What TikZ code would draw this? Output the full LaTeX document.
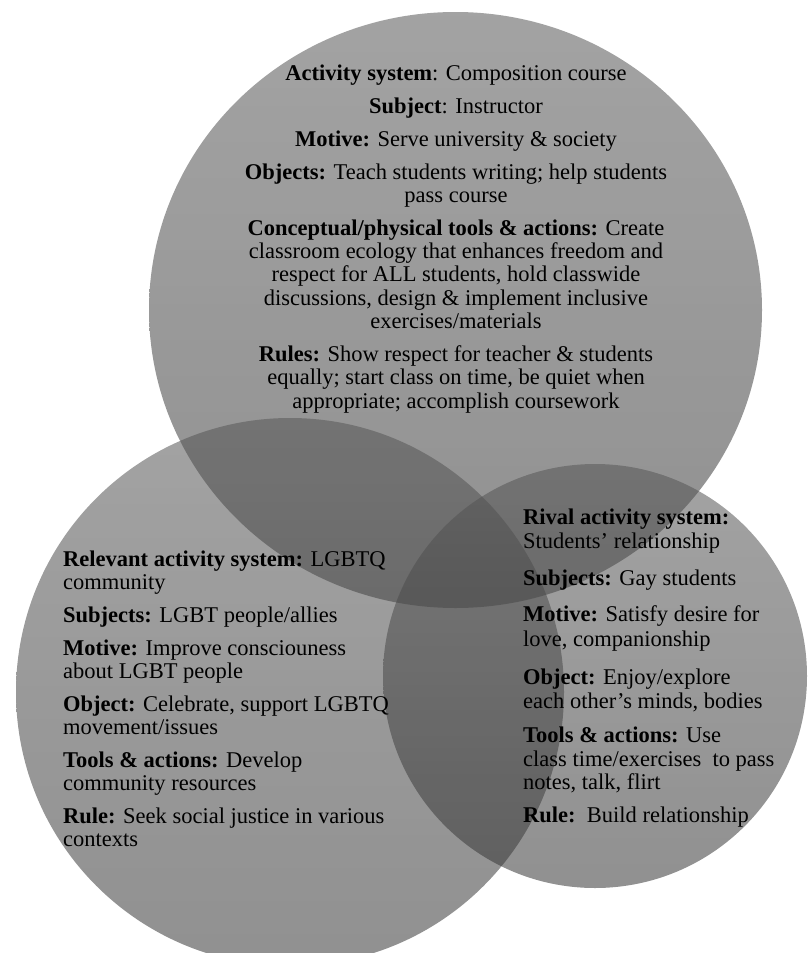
\documentclass[tikz,border=0pt]{standalone}
\usepackage{fontspec}
\setmainfont{Liberation Serif}
\definecolor{ctop}{gray}{0.34}
\definecolor{cbot}{gray}{0.21}
\begin{document}
\begin{tikzpicture}[x=1pt,y=-1pt,
  txt/.style={inner sep=0pt, font=\fontsize{22.5}{24}\selectfont, text=black},
  cline/.style={txt, anchor=base},
  lline/.style={txt, anchor=base west},
  disc/.style={top color=ctop, bottom color=cbot, fill opacity=0.55}]
\useasboundingbox (0,0) rectangle (809,953);
% circles
\shade[disc] (455.5,310) ellipse [x radius=306.5, y radius=298];
\shade[disc] (290,692) circle [radius=274];
\shade[disc] (595,676) circle [radius=212];
% top block
\node[cline] (t1) at (456,80) {\textbf{Activity system}: Composition course};
\node[cline] (t2) at (456,113) {\textbf{Subject}: Instructor};
\node[cline] (t3) at (456,146) {\textbf{Motive:} Serve university \& society};
\node[cline] (t4) at (456,179) {\textbf{Objects:} Teach students writing; help students};
\node[cline] (t5) at (456,202.3) {pass course};
\node[cline] (t6) at (456,235.3) {\textbf{Conceptual/physical tools \& actions:} Create};
\node[cline] (t7) at (456,258.6) {classroom ecology that enhances freedom and};
\node[cline] (t8) at (456,281.9) {respect for ALL students, hold classwide};
\node[cline] (t9) at (456,305.2) {discussions, design \& implement inclusive};
\node[cline] (t10) at (456,328.5) {exercises/materials};
\node[cline] (t11) at (456,361.5) {\textbf{Rules:} Show respect for teacher \& students};
\node[cline] (t12) at (456,384.8) {equally; start class on time, be quiet when};
\node[cline] (t13) at (456,408.1) {appropriate; accomplish coursework};
% left block
\node[lline] (l1) at (63,566) {\textbf{Relevant activity system:} LGBTQ};
\node[lline] (l2) at (63,589) {community};
\node[lline] (l3) at (63,622) {\textbf{Subjects:} LGBT people/allies};
\node[lline] (l4) at (63,655) {\textbf{Motive:} Improve consciouness};
\node[lline] (l5) at (63,678) {about LGBT people};
\node[lline] (l6) at (63,711) {\textbf{Object:} Celebrate, support LGBTQ};
\node[lline] (l7) at (63,734) {movement/issues};
\node[lline] (l8) at (63,767) {\textbf{Tools \& actions:} Develop};
\node[lline] (l9) at (63,790) {community resources};
\node[lline] (l10) at (63,823) {\textbf{Rule:} Seek social justice in various};
\node[lline] (l11) at (63,846) {contexts};
% right block
\node[lline] (r1) at (523,524) {\textbf{Rival activity system:}};
\node[lline] (r2) at (523,548) {Students' relationship};
\node[lline] (r3) at (523,585) {\textbf{Subjects:} Gay students};
\node[lline] (r4) at (523,621) {\textbf{Motive:} Satisfy desire for};
\node[lline] (r5) at (523,646) {love, companionship};
\node[lline] (r6) at (523,684) {\textbf{Object:} Enjoy/explore};
\node[lline] (r7) at (523,708) {each other's minds, bodies};
\node[lline] (r8) at (523,742) {\textbf{Tools \& actions:} Use};
\node[lline] (r9) at (523,766) {class time/exercises\ \ to pass};
\node[lline] (r10) at (523,789) {notes, talk, flirt};
\node[lline] (r11) at (523,822) {\textbf{Rule:}\ \ Build relationship};
\end{tikzpicture}
\end{document}
